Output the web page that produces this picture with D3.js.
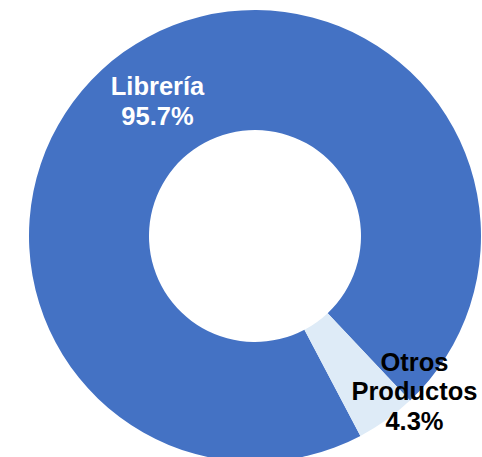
<!DOCTYPE html>
<html>
<head>
<meta charset="utf-8">
<script src="https://cdn.jsdelivr.net/npm/d3@7"></script>
<style>
  html, body { margin: 0; padding: 0; background: #ffffff; }
  svg { display: block; }
</style>
</head>
<body>
<svg id="chart" width="482" height="457"></svg>
<script>
const categories = ["Librería", "Otros Productos"];
const values = [95.7, 4.3];
const labelLines = [["Librería", "95.7%"], ["Otros", "Productos", "4.3%"]];
const colors = ["#4472C4", "#DEEBF7"];
const textColors = ["#ffffff", "#000000"];

const W = 482, H = 457;
const cx = 255, cy = 236;
const outerR = 226, innerR = 106;
const startDeg = 152.2;

const svg = d3.select("#chart");
const g = svg.append("g").attr("transform", `translate(${cx},${cy})`);

const pie = d3.pie().sort(null)
  .startAngle(startDeg * Math.PI / 180)
  .endAngle(startDeg * Math.PI / 180 + 2 * Math.PI);
const arcs = pie(values);
const arc = d3.arc().innerRadius(innerR).outerRadius(outerR);

g.selectAll("path.slice")
  .data(arcs)
  .join("path")
  .attr("class", "slice")
  .attr("d", arc)
  .attr("fill", (d, i) => colors[i]);

const fontSize = 25.5;
const lineH = 29.5;
// label offsets relative to centroid (Excel-style manual label placement)
const offsets = [[-1, 0], [63, 20]];

arcs.forEach((d, i) => {
  const [x, y] = arc.centroid(d);
  const lines = labelLines[i];
  const lx = x + offsets[i][0];
  const ly = y + offsets[i][1];
  const t = g.append("text")
    .attr("text-anchor", "middle")
    .attr("font-family", "Liberation Sans, Arial, sans-serif")
    .attr("font-weight", "bold")
    .attr("font-size", fontSize)
    .attr("fill", textColors[i]);
  const n = lines.length;
  lines.forEach((ln, k) => {
    t.append("tspan")
      .attr("x", lx)
      .attr("y", ly + (k - (n - 1) / 2) * lineH + fontSize * 0.35)
      .text(ln);
  });
});
</script>
</body>
</html>
